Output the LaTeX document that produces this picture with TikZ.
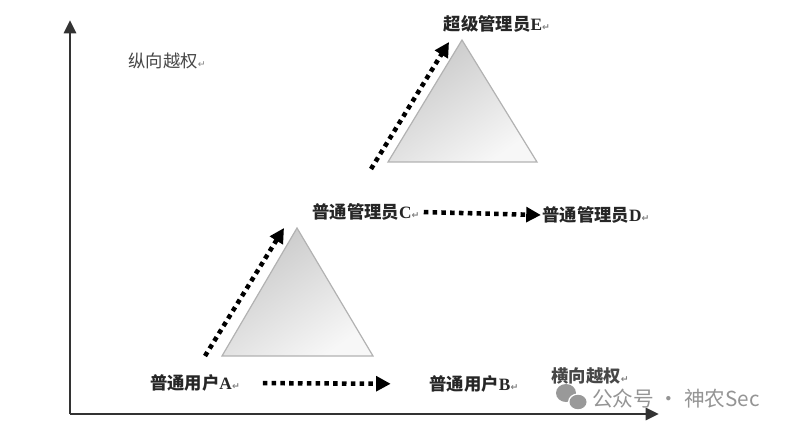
\documentclass[tikz,border=0pt]{standalone}
\usepackage{fontspec}
\setmainfont{Liberation Serif}
\newfontfamily\cjk{Noto Sans CJK SC}
\newfontfamily\symfont{DejaVu Sans}
\usetikzlibrary{arrows.meta,positioning,calc}
\newcommand{\retmark}{{\symfont\fontsize{7}{7}\selectfont\color{gray}↵}}
\tikzstyle{role} = [inner sep=1pt, font=\fontsize{13}{15}\selectfont\bfseries\cjk, text=black!85]
\tikzstyle{axislabel} = [inner sep=1pt, font=\fontsize{13}{15}\selectfont\cjk, text=black!72]
\tikzstyle{dotarrow} = [line width=3.4pt, dash pattern=on 3.4pt off 3.2pt, -{Triangle[length=11pt,width=11pt]}]
\tikzstyle{axis} = [line width=2.2pt, draw=black!80, -{Triangle[length=10pt,width=9pt]}]
\tikzstyle{pyramid} = [draw=black!30, line width=0.9pt, top color=black!22, bottom color=black!3, shading angle=35]

\begin{document}
\begin{tikzpicture}[x=0.75pt, y=-0.75pt]
  \useasboundingbox (0,0) rectangle (790,428);
  % Axes
  \coordinate (o) at (70,414);
  \coordinate (yend) at (70,20);
  \coordinate (xend) at (659,414);
  \draw [axis] (o) -- (yend);
  \draw [axis] (o) -- (xend);

  % Triangles
  \coordinate (lowtop) at (297,228);
  \coordinate (lowleft) at (222,356);
  \coordinate (lowright) at (373,356);
  \coordinate (uptop) at (462,40);
  \coordinate (upleft) at (388,162);
  \coordinate (upright) at (537,162);
  \path [pyramid] (lowtop) -- (lowright) -- (lowleft) -- cycle;
  \path [pyramid] (uptop) -- (upright) -- (upleft) -- cycle;

  % Nodes
  \node [role] (ua) at (195,383) {普通用户{\rmfamily A}\retmark};
  \node [role] (ub) at (474,384) {普通用户{\rmfamily B}\retmark};
  \node [role] (mc) at (366,212) {普通管理员{\rmfamily C}\retmark};
  \node [role] (md) at (596,215) {普通管理员{\rmfamily D}\retmark};
  \node [role] (se) at (497,24) {超级管理员{\rmfamily E}\retmark};
  \node [axislabel] (vlab) at (167,61) {纵向越权\retmark};
  \node [axislabel, font=\fontsize{13}{15}\selectfont\bfseries\cjk] (hlab) at (590,376) {横向越权\retmark};

  % Escalation paths
  \coordinate (lowstart) at (205,356);
  \coordinate (lowend) at (284,228);
  \coordinate (upstart) at (371,169);
  \coordinate (upend) at (449,42);
  \draw [dotarrow] (lowstart) -- (lowend);
  \draw [dotarrow] (upstart) -- (upend);
  \draw [dotarrow, shorten <=16pt, shorten >=28pt] (ua.east) -- (ub.west);
  \draw [dotarrow, shorten <=2pt, shorten >=0pt] (mc.east) -- (md.west);

  % Watermark
  \fill [black!40] (566,393) ellipse (10 and 9);
  \fill [white] (578,402) ellipse (10 and 8.6);
  \fill [black!40] (578,402) ellipse (8.5 and 7.2);
  \node [inner sep=0pt, font=\fontsize{15.5}{17}\selectfont\cjk, text=black!42] (mark) at (676,399) {公众号 · 神农Sec};
\end{tikzpicture}
\end{document}
